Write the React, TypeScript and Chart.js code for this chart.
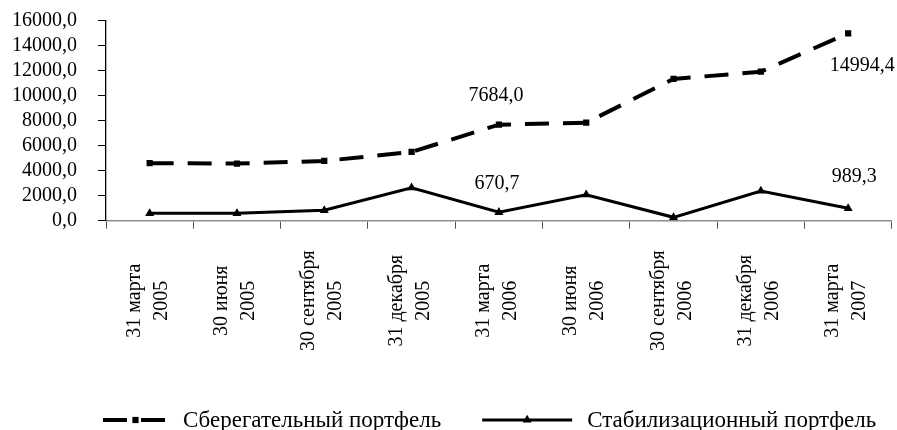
import React, { useEffect, useRef } from "react";
import { Chart, registerables } from "chart.js";

Chart.register(...registerables);

// Quarter-end dates, split into two lines for the rotated axis labels
const dateLabels: string[][] = [
  ["31 марта", "2005"],
  ["30 июня", "2005"],
  ["30 сентября", "2005"],
  ["31 декабря", "2005"],
  ["31 марта", "2006"],
  ["30 июня", "2006"],
  ["30 сентября", "2006"],
  ["31 декабря", "2006"],
  ["31 марта", "2007"],
];

// Portfolio volumes
const savingsPortfolio = [4600, 4570, 4780, 5500, 7684.0, 7840, 11340, 11920, 14994.4];
const stabilizationPortfolio = [590, 590, 830, 2640, 670.7, 2080, 270, 2380, 989.3];

const seriesNames = ["Сберегательный портфель", "Стабилизационный портфель"];

// Points whose values are printed next to the marker
const labeledPoints = [4, 8];

const Y_MIN = 0;
const Y_MAX = 16000;
const Y_STEP = 2000;

const FONT_FAMILY = '"Liberation Serif", "Times New Roman", serif';
const FONT = `20px ${FONT_FAMILY}`;
const LEGEND_FONT = `23px ${FONT_FAMILY}`;

const fmt = (v: number) => v.toFixed(1).replace(".", ",");

// Offsets of the printed values relative to their markers, per dataset
const valueLabelOffsets: Record<number, Record<number, [number, number]>> = {
  0: { 4: [-3, -30], 8: [14, 31] },
  1: { 4: [-2, -30], 8: [6, -33] },
};

const valueLabelsPlugin = {
  id: "valueLabels",
  afterDatasetsDraw(chart: any) {
    const ctx = chart.ctx;
    ctx.save();
    ctx.font = FONT;
    ctx.fillStyle = "#000";
    ctx.textAlign = "center";
    ctx.textBaseline = "middle";
    chart.data.datasets.forEach((ds: any, di: number) => {
      const meta = chart.getDatasetMeta(di);
      labeledPoints.forEach((i) => {
        const el = meta.data[i];
        if (!el) return;
        const [dx, dy] = valueLabelOffsets[di][i];
        ctx.fillText(fmt(ds.data[i]), el.x + dx, el.y + dy + 1);
      });
    });
    ctx.restore();
  },
};

// Rotated two-line category labels, centred on each category
const dateLabelsPlugin = {
  id: "dateLabels",
  afterDraw(chart: any) {
    const xs = chart.scales.x;
    const ctx = chart.ctx;
    const centerY = chart.chartArea.bottom + 80;
    ctx.save();
    ctx.font = FONT;
    ctx.fillStyle = "#000";
    ctx.textAlign = "center";
    ctx.textBaseline = "alphabetic";
    dateLabels.forEach((lines, i) => {
      const x = xs.getPixelForTick(i);
      ctx.save();
      ctx.translate(x, centerY);
      ctx.rotate(-Math.PI / 2);
      lines.forEach((t, j) => {
        ctx.fillText(t, 0, j === 0 ? -10 : 17);
      });
      ctx.restore();
    });
    ctx.restore();
  },
};

// Legend with line samples under the plot area
const lineLegendPlugin = {
  id: "lineLegend",
  afterDraw(chart: any) {
    const ctx = chart.ctx;
    const area = chart.chartArea;
    const y = 420;
    const sampleLens = [65, 90];
    const sampleGap = 15;
    const itemGap = 41;
    ctx.save();
    ctx.font = LEGEND_FONT;
    const widths = seriesNames.map((n) => ctx.measureText(n).width);
    let x = area.left - 3;
    chart.data.datasets.forEach((ds: any, di: number) => {
      const len = sampleLens[di];
      ctx.save();
      ctx.strokeStyle = ds.borderColor;
      ctx.lineWidth = ds.borderWidth;
      ctx.setLineDash(ds.borderDash || []);
      ctx.beginPath();
      ctx.moveTo(x, y);
      ctx.lineTo(x + len, y);
      ctx.stroke();
      ctx.restore();
      ctx.save();
      ctx.fillStyle = ds.pointBackgroundColor;
      const cx = x + len / 2;
      if (ds.pointStyle === "rect") {
        const s = ds.pointRadius * Math.SQRT1_2;
        ctx.fillRect(cx - s, y - s, 2 * s, 2 * s);
      } else {
        const r = ds.pointRadius;
        ctx.beginPath();
        ctx.moveTo(cx, y - r);
        ctx.lineTo(cx + r * Math.sin((2 * Math.PI) / 3), y - r * Math.cos((2 * Math.PI) / 3));
        ctx.lineTo(cx + r * Math.sin((4 * Math.PI) / 3), y - r * Math.cos((4 * Math.PI) / 3));
        ctx.closePath();
        ctx.fill();
      }
      ctx.restore();
      x += len + sampleGap;
      ctx.fillStyle = "#000";
      ctx.textAlign = "left";
      ctx.textBaseline = "middle";
      ctx.fillText(seriesNames[di], x, y + 1);
      x += widths[di] + itemGap;
    });
    ctx.restore();
  },
};

export default function App() {
  const canvasRef = useRef<HTMLCanvasElement | null>(null);

  useEffect(() => {
    if (!canvasRef.current) return;
    const chart = new Chart(canvasRef.current, {
      type: "line",
      data: {
        labels: dateLabels.map((l) => l.join(" ")),
        datasets: [
          {
            label: seriesNames[0],
            data: savingsPortfolio,
            borderColor: "#000",
            backgroundColor: "#000",
            borderWidth: 4,
            borderDash: [24, 14],
            borderCapStyle: "butt",
            tension: 0,
            fill: false,
            pointStyle: "rect",
            pointRadius: 4.4,
            pointBackgroundColor: "#000",
            pointBorderColor: "#000",
            pointBorderWidth: 0,
          },
          {
            label: seriesNames[1],
            data: stabilizationPortfolio,
            borderColor: "#000",
            backgroundColor: "#000",
            borderWidth: 3,
            tension: 0,
            fill: false,
            pointStyle: "triangle",
            pointRadius: 5.2,
            pointBackgroundColor: "#000",
            pointBorderColor: "#000",
            pointBorderWidth: 0,
          },
        ],
      },
      options: {
        responsive: false,
        animation: false,
        layout: { padding: { top: 20.7, right: 5, left: 0, bottom: 0 } },
        plugins: {
          legend: { display: false },
          tooltip: { enabled: false },
        },
        scales: {
          x: {
            type: "category",
            offset: true,
            grid: {
              offset: true,
              drawOnChartArea: false,
              drawTicks: true,
              tickLength: 8,
              color: "#555",
              lineWidth: 1,
            },
            border: { display: true, color: "#8c8c8c", width: 1.5 },
            ticks: { display: false },
            afterFit: (s: any) => {
              s.height = 430 - 220.7;
            },
          },
          y: {
            min: Y_MIN,
            max: Y_MAX,
            grid: {
              drawOnChartArea: false,
              drawTicks: true,
              tickLength: 8,
              color: "#000",
              lineWidth: 1,
            },
            border: { display: true, color: "#000", width: 1.3 },
            ticks: {
              stepSize: Y_STEP,
              autoSkip: false,
              padding: 21,
              color: "#000",
              font: { family: FONT_FAMILY, size: 20 },
              callback: (v: any) => fmt(Number(v)),
            },
            afterFit: (s: any) => {
              s.width = 106;
              // only half a label of room is needed above and below the axis
              s.paddingTop = 12;
              s.paddingBottom = 12;
            },
          },
        },
      },
      plugins: [valueLabelsPlugin, dateLabelsPlugin, lineLegendPlugin],
    } as any);
    return () => chart.destroy();
  }, []);

  return (
    <div style={{ position: "absolute", left: 0, top: 0, width: 897, height: 430, background: "#fff" }}>
      <canvas ref={canvasRef} width={897} height={430} />
    </div>
  );
}
